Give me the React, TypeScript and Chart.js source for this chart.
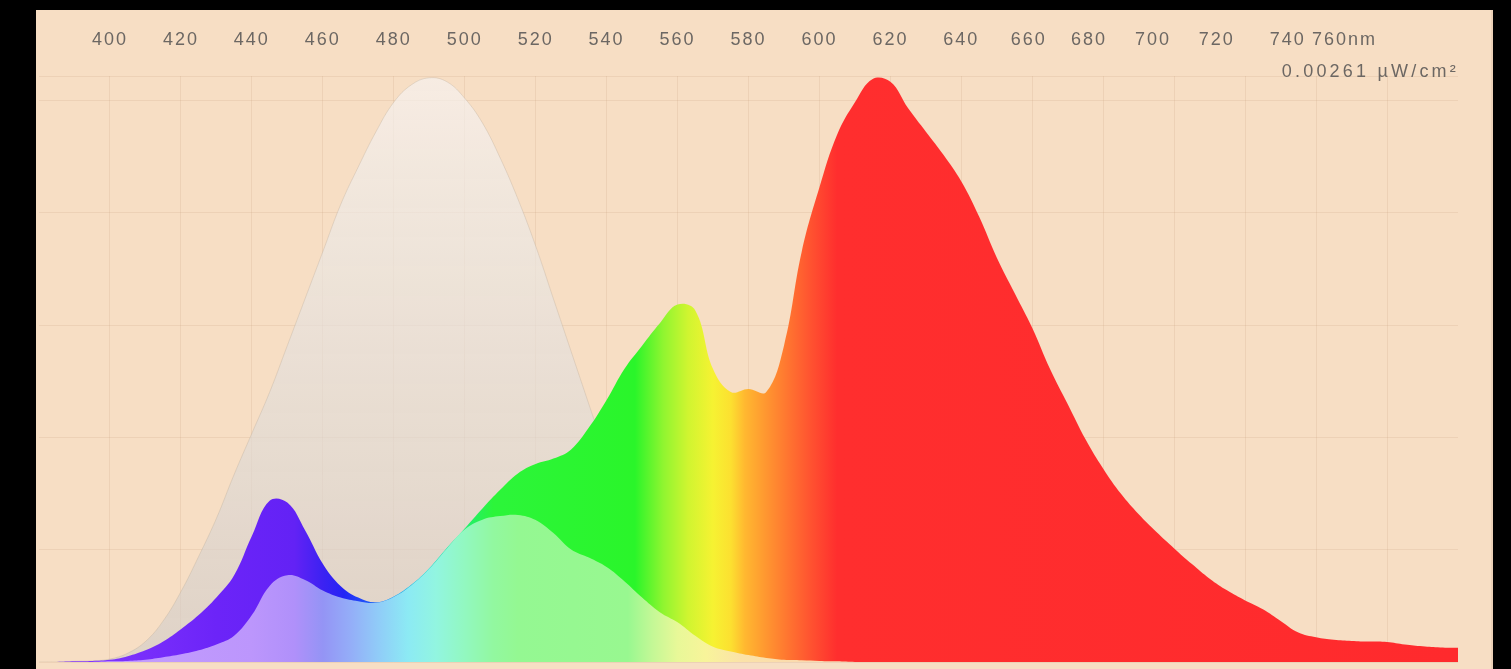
import React, { useEffect, useRef } from 'react';
import { Chart, registerables } from 'chart.js';

Chart.register(...registerables);

// ---- data (irradiance in nW/cm², wavelength in nm) ----
const wavelengthNm = [
  380, 385, 390, 395, 400, 405, 410, 415, 420, 425,
  430, 435, 440, 445, 450, 455, 460, 465, 470, 475,
  480, 485, 490, 495, 500, 505, 510, 515, 520, 525,
  530, 535, 540, 545, 550, 555, 560, 565, 570, 575,
  580, 585, 590, 595, 600, 605, 610, 615, 620, 625,
  630, 635, 640, 645, 650, 655, 660, 665, 670, 675,
  680, 685, 690, 695, 700, 705, 710, 715, 720, 725,
  730, 735, 740, 745, 750, 755, 760, 765, 770, 775,
  780,
];

// measured spectrum (vivid colour layer)
const spectrumNw = [
  0, 0, 0.003, 0.005, 0.010, 0.026, 0.052, 0.091, 0.146, 0.209,
  0.287, 0.386, 0.561, 0.718, 0.710, 0.587, 0.438, 0.339, 0.287, 0.266,
  0.292, 0.345, 0.418, 0.509, 0.595, 0.684, 0.767, 0.840, 0.882, 0.906,
  0.947, 1.044, 1.167, 1.305, 1.409, 1.509, 1.592, 1.566, 1.305, 1.203,
  1.216, 1.203, 1.409, 1.827, 2.114, 2.349, 2.493, 2.597, 2.584, 2.466,
  2.362, 2.258, 2.140, 1.984, 1.801, 1.644, 1.488, 1.305, 1.148, 0.992,
  0.861, 0.749, 0.658, 0.579, 0.506, 0.436, 0.371, 0.318, 0.274, 0.235,
  0.183, 0.131, 0.110, 0.099, 0.094, 0.091, 0.089, 0.078, 0.070, 0.065,
  0.063,
];

// weighted spectrum (pastel layer)
const weightedNw = [
  0, 0, 0, 0, 0.003, 0.005, 0.010, 0.021, 0.034, 0.052,
  0.078, 0.117, 0.209, 0.339, 0.386, 0.365, 0.318, 0.287, 0.271, 0.264,
  0.290, 0.342, 0.415, 0.506, 0.590, 0.634, 0.650, 0.655, 0.632, 0.574,
  0.501, 0.465, 0.423, 0.360, 0.287, 0.222, 0.177, 0.117, 0.068, 0.047,
  0.031, 0.018, 0.010, 0.008, 0.005, 0.003, 0, 0, 0, 0,
  0, 0, 0, 0, 0, 0, 0, 0, 0, 0,
  0, 0, 0, 0, 0, 0, 0, 0, 0, 0,
  0, 0, 0, 0, 0, 0, 0, 0, 0, 0,
  0,
];

// sensitivity curve (grey bell)
const sensitivityNw = [
  0, 0, 0.003, 0.005, 0.013, 0.039, 0.091, 0.183, 0.313, 0.470,
  0.639, 0.835, 1.018, 1.201, 1.409, 1.618, 1.827, 2.036, 2.205, 2.362,
  2.493, 2.571, 2.602, 2.584, 2.511, 2.401, 2.245, 2.062, 1.853, 1.618,
  1.383, 1.148, 0.914, 0.679, 0.470, 0.287, 0.170, 0.099, 0.057, 0.034,
  0.021, 0.013, 0.008, 0.005, 0.003, 0, 0, 0, 0, 0,
  0, 0, 0, 0, 0, 0, 0, 0, 0, 0,
  0, 0, 0, 0, 0, 0, 0, 0, 0, 0,
  0, 0, 0, 0, 0, 0, 0, 0, 0, 0,
  0,
];

const gridWavelengths = [400, 420, 440, 460, 480, 500, 520, 540, 560, 580, 600, 620, 640, 660, 680, 700, 720, 740, 760];
const tickLabels = ['400', '420', '440', '460', '480', '500', '520', '540', '560', '580', '600', '620', '640', '660', '680', '700', '720', '740', '760nm'];
const tickLabelAt = [400, 420, 440, 460, 480, 500, 520, 540, 560, 580, 600, 620, 640, 659, 676, 694, 712, 732, 748];
const yGridValues = [0, 0.5, 1, 1.5, 2, 2.5, 2.61];
const irradianceLabel = '0.00261 µW/cm²';

const X_MIN = 380;
const X_MAX = 780;
const Y_MAX = 2.61;

// ---- styles ----
const vividStops: [number, string][] = [
  [380, '#8a3cff'], [430, '#6c24f8'], [452, '#6322f5'], [460, '#3c22f2'], [466, '#2424f5'],
  [472, '#2050f8'], [480, '#20a0f0'], [490, '#20d8d0'], [500, '#22ee70'], [508, '#2cf53a'],
  [548, '#2af52a'], [556, '#90f530'], [563, '#d0f530'], [570, '#f6f232'], [575, '#fce030'],
  [579, '#ffb830'], [585, '#ff9630'], [592, '#ff7030'], [598, '#ff5030'], [605, '#ff2e2e'],
  [780, '#ff2a2d'],
];
const pastelStops: [number, string][] = [
  [380, '#c8a0ff'], [440, '#bc96fc'], [452, '#b090fa'], [460, '#9494f5'], [468, '#94aef8'],
  [476, '#90cdf8'], [484, '#8ceaf4'], [492, '#92f5e0'], [500, '#92f8c0'], [508, '#92f8a0'],
  [515, '#94f892'], [546, '#98f890'], [553, '#c4f896'], [560, '#e8f898'], [568, '#f8f49a'],
  [578, '#fbe2a8'], [600, '#fbd8b0'], [780, '#fbd8b0'],
];
const BG = '#f7dec4';
const GRID = 'rgba(190,150,115,0.17)';
const TEXT = '#6c6763';
const FONT_FAMILY = '"Liberation Sans", Arial, Helvetica, sans-serif';

function hGradient(chart: any, stops: [number, string][]) {
  const { ctx, chartArea, scales } = chart;
  if (!chartArea || !scales.x) return stops[0][1];
  const sx = scales.x;
  const x0 = sx.getPixelForValue(X_MIN);
  const x1 = sx.getPixelForValue(X_MAX);
  const g = ctx.createLinearGradient(x0, 0, x1, 0);
  stops.forEach(([nm, c]) => {
    const t = (sx.getPixelForValue(nm) - x0) / (x1 - x0);
    g.addColorStop(Math.min(1, Math.max(0, t)), c);
  });
  return g;
}

function vGradient(chart: any) {
  const { ctx, chartArea } = chart;
  if (!chartArea) return 'rgba(225,215,205,0.6)';
  const g = ctx.createLinearGradient(0, chartArea.top, 0, chartArea.bottom);
  g.addColorStop(0, 'rgba(246,243,241,0.68)');
  g.addColorStop(1, 'rgba(207,203,200,0.6)');
  return g;
}

const textPlugin = {
  id: 'spectrumText',
  beforeDraw(chart: any) {
    chart.ctx.letterSpacing = '2px';
  },
  afterDraw(chart: any) {
    const { ctx, chartArea } = chart;
    ctx.save();
    ctx.letterSpacing = '3.2px';
    ctx.font = `18px ${FONT_FAMILY}`;
    ctx.fillStyle = TEXT;
    ctx.textAlign = 'right';
    ctx.textBaseline = 'alphabetic';
    ctx.fillText(irradianceLabel, chartArea.right + 1, chartArea.top + 1);
    ctx.restore();
  },
};

export default function App() {
  const ref = useRef<HTMLCanvasElement>(null);

  useEffect(() => {
    const toPoints = (vals: number[]) => wavelengthNm.map((x, i) => ({ x, y: vals[i] }));
    const common = {
      xAxisID: 'x',
      yAxisID: 'y',
      fill: 'origin',
      pointRadius: 0,
      tension: 0.4,
    };
    const chart = new Chart(ref.current as HTMLCanvasElement, {
      type: 'line',
      data: {
        datasets: [
          {
            ...common,
            label: 'weighted',
            data: toPoints(weightedNw),
            order: 1,
            borderWidth: 0,
            backgroundColor: (c: any) => hGradient(c.chart, pastelStops),
          },
          {
            ...common,
            label: 'spectrum',
            data: toPoints(spectrumNw),
            order: 2,
            borderWidth: 0,
            backgroundColor: (c: any) => hGradient(c.chart, vividStops),
          },
          {
            ...common,
            label: 'sensitivity',
            data: toPoints(sensitivityNw),
            order: 3,
            borderWidth: 1,
            borderColor: 'rgba(180,165,150,0.3)',
            backgroundColor: (c: any) => vGradient(c.chart),
          },
        ],
      } as any,
      options: {
        animation: false,
        responsive: true,
        maintainAspectRatio: false,
        events: [],
        layout: { padding: { top: 19, left: 3, right: 35, bottom: 7 } },
        plugins: { legend: { display: false }, tooltip: { enabled: false } },
        scales: {
          x: {
            type: 'linear',
            position: 'top',
            min: X_MIN,
            max: X_MAX,
            afterBuildTicks: (s: any) => {
              s.ticks = tickLabelAt.map((v) => ({ value: v }));
            },
            afterFit: (s: any) => {
              s.height = 47;
            },
            ticks: {
              autoSkip: false,
              maxRotation: 0,
              minRotation: 0,
              padding: 25,
              color: TEXT,
              font: { size: 18, family: FONT_FAMILY },
              callback: (_v: any, i: number) => tickLabels[i],
            },
            grid: { display: false, drawTicks: false },
            border: { display: false },
          },
          xg: {
            type: 'linear',
            position: 'bottom',
            min: X_MIN,
            max: X_MAX,
            afterBuildTicks: (s: any) => {
              s.ticks = gridWavelengths.map((v) => ({ value: v }));
            },
            afterFit: (s: any) => {
              s.height = 0;
            },
            ticks: { display: false },
            grid: { color: GRID, lineWidth: 1, drawTicks: false },
            border: { display: false },
          },
          y: {
            type: 'linear',
            position: 'left',
            min: 0,
            max: Y_MAX,
            afterBuildTicks: (s: any) => {
              s.ticks = yGridValues.map((v) => ({ value: v }));
            },
            afterFit: (s: any) => {
              s.width = 0;
            },
            ticks: { display: false },
            grid: { color: GRID, lineWidth: 1, drawTicks: false },
            border: { display: false },
          },
        },
      } as any,
      plugins: [textPlugin],
    });
    return () => chart.destroy();
  }, []);

  return (
    <div style={{ position: 'fixed', inset: 0, background: '#000' }}>
      <div
        style={{
          position: 'absolute',
          left: 36,
          top: 10,
          width: 1457,
          height: 659,
          background: BG,
          boxShadow: 'inset -2px 0 0 rgba(150,110,80,0.12)',
        }}
      >
        <canvas ref={ref} />
      </div>
    </div>
  );
}
